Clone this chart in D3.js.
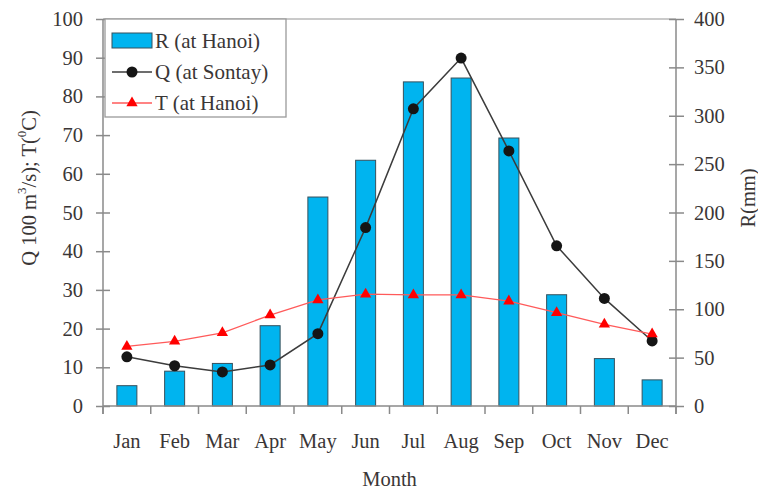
<!DOCTYPE html>
<html>
<head>
<meta charset="utf-8">
<script src="https://cdn.jsdelivr.net/npm/d3@7"></script>
<style>
  body { margin: 0; background: #fff; }
  svg { display: block; }
</style>
</head>
<body>
<svg id="chart" width="758" height="490" font-family="'Liberation Serif', 'DejaVu Serif', serif"></svg>
<script>
var months = ["Jan", "Feb", "Mar", "Apr", "May", "Jun", "Jul", "Aug", "Sep", "Oct", "Nov", "Dec"];
// rainfall R at Hanoi (mm), right axis
var rain = [21, 36, 44, 83, 216, 254, 335, 339, 277, 115, 49, 27];
// discharge Q at Sontay (100 m3/s), left axis
var discharge = [12.7, 10.4, 8.8, 10.6, 18.7, 46.1, 76.8, 89.9, 65.9, 41.4, 27.8, 16.8];
// temperature T at Hanoi (C), left axis
var temp = [15.4, 16.7, 18.9, 23.5, 27.4, 28.9, 28.7, 28.7, 27.1, 24.1, 21.1, 18.6];
var leftTicks = [0, 10, 20, 30, 40, 50, 60, 70, 80, 90, 100];
var rightTicks = [0, 50, 100, 150, 200, 250, 300, 350, 400];

var serif = "'Liberation Serif', 'DejaVu Serif', serif";
var textColor = "#3a3636";
var fs = 20.5;

function drawChart() {
    var svg = d3.select("#chart");
    var padding = {top: 19, right: 82, bottom: 84, left: 103};
    var chartArea = {
        "width": 758 - padding.left - padding.right,
        "height": 490 - padding.top - padding.bottom
    };
    var axisColor = "#8a8a8a";

    var xScale = d3.scaleBand().domain(months).range([0, chartArea.width]);
    var yLeft = d3.scaleLinear().domain([0, 100]).range([chartArea.height, 0]);
    var yRight = d3.scaleLinear().domain([0, 400]).range([chartArea.height, 0]);

    var g = svg.append("g")
        .attr("transform", "translate(" + padding.left + "," + padding.top + ")");

    // top border
    g.append("line")
        .attr("x1", 0).attr("x2", chartArea.width)
        .attr("y1", 0).attr("y2", 0)
        .attr("stroke", "#b8b8b8").attr("stroke-width", 1.5);

    // bars
    var barW = 20;
    g.selectAll("rect.bar").data(rain).enter()
        .append("rect")
        .attr("class", "bar")
        .attr("x", (d, i) => xScale(months[i]) + xScale.bandwidth() / 2 - barW / 2)
        .attr("y", d => yRight(d))
        .attr("width", barW)
        .attr("height", d => chartArea.height - yRight(d))
        .attr("fill", "#00b4ef")
        .attr("stroke", "#37505c")
        .attr("stroke-width", 1);

    // x axis with ticks between months
    var xAxis = g.append("g").attr("transform", "translate(0," + chartArea.height + ")");
    xAxis.append("line")
        .attr("x1", 0).attr("x2", chartArea.width)
        .attr("stroke", axisColor).attr("stroke-width", 1.5);
    var bounds = d3.range(months.length + 1).map(i => i * xScale.step());
    xAxis.selectAll("line.tick").data(bounds).enter()
        .append("line")
        .attr("class", "tick")
        .attr("x1", d => d).attr("x2", d => d)
        .attr("y1", 0).attr("y2", 8)
        .attr("stroke", axisColor).attr("stroke-width", 1.5);
    xAxis.selectAll("text").data(months).enter()
        .append("text")
        .attr("x", d => xScale(d) + xScale.bandwidth() / 2)
        .attr("y", 42)
        .attr("text-anchor", "middle")
        .attr("font-size", fs)
        .attr("fill", textColor)
        .text(d => d);

    // left axis
    var yAxisL = g.append("g")
        .call(d3.axisLeft(yLeft).tickValues(leftTicks).tickSize(6).tickPadding(12))
        .attr("font-family", serif).attr("font-size", fs);
    yAxisL.select(".domain").attr("stroke", axisColor).attr("stroke-width", 1.5)
        .attr("d", "M0,0V" + (chartArea.height + 8));
    yAxisL.selectAll(".tick line").attr("x1", 7).attr("x2", -7)
        .attr("stroke", axisColor).attr("stroke-width", 1.5);
    yAxisL.selectAll(".tick text").attr("fill", textColor).attr("dx", "-0.1em");

    // right axis
    var yAxisR = g.append("g")
        .attr("transform", "translate(" + chartArea.width + ",0)")
        .call(d3.axisRight(yRight).tickValues(rightTicks).tickSize(7).tickPadding(11))
        .attr("font-family", serif).attr("font-size", fs);
    yAxisR.select(".domain").attr("stroke", axisColor).attr("stroke-width", 1.5)
        .attr("d", "M0,0V" + (chartArea.height + 8));
    yAxisR.selectAll(".tick line").attr("x1", -7).attr("x2", 8)
        .attr("stroke", axisColor).attr("stroke-width", 1.5);
    yAxisR.selectAll(".tick text").attr("fill", textColor);

    var cx = (d, i) => xScale(months[i]) + xScale.bandwidth() / 2;

    // Q line
    var qLine = d3.line().x(cx).y(d => yLeft(d));
    g.append("path").datum(discharge)
        .attr("d", qLine)
        .attr("fill", "none")
        .attr("stroke", "#3c3c3c")
        .attr("stroke-width", 1.5);
    g.selectAll("circle.q").data(discharge).enter()
        .append("circle")
        .attr("class", "q")
        .attr("cx", cx)
        .attr("cy", d => yLeft(d))
        .attr("r", 5.5)
        .attr("fill", "#151515");

    // T line
    var tLine = d3.line().x(cx).y(d => yLeft(d));
    g.append("path").datum(temp)
        .attr("d", tLine)
        .attr("fill", "none")
        .attr("stroke", "#ff5a5a")
        .attr("stroke-width", 1.3);
    var tri = d3.symbol().type(d3.symbolTriangle).size(55);
    g.selectAll("path.t").data(temp).enter()
        .append("path")
        .attr("class", "t")
        .attr("d", tri)
        .attr("transform", (d, i) => "translate(" + cx(d, i) + "," + yLeft(d) + ")")
        .attr("fill", "#ff0000");

    // legend
    var leg = g.append("g").attr("transform", "translate(2,0)");
    leg.append("rect")
        .attr("x", 0).attr("y", 0)
        .attr("width", 181).attr("height", 98)
        .attr("fill", "#fff")
        .attr("stroke", "#9a9a9a").attr("stroke-width", 1.3);
    var rowY = [22, 53, 84];
    leg.append("rect")
        .attr("x", 7).attr("y", rowY[0] - 8)
        .attr("width", 40).attr("height", 15)
        .attr("fill", "#00b4ef").attr("stroke", "#37505c");
    leg.append("line")
        .attr("x1", 7).attr("x2", 47).attr("y1", rowY[1]).attr("y2", rowY[1])
        .attr("stroke", "#3c3c3c").attr("stroke-width", 1.5);
    leg.append("circle")
        .attr("cx", 27).attr("cy", rowY[1]).attr("r", 5.5).attr("fill", "#151515");
    leg.append("line")
        .attr("x1", 7).attr("x2", 47).attr("y1", rowY[2]).attr("y2", rowY[2])
        .attr("stroke", "#ff5a5a").attr("stroke-width", 1.3);
    leg.append("path")
        .attr("d", tri)
        .attr("transform", "translate(27," + rowY[2] + ")")
        .attr("fill", "#ff0000");
    var legLabels = ["R (at Hanoi)", "Q (at Sontay)", "T (at Hanoi)"];
    leg.selectAll("text.lab").data(legLabels).enter()
        .append("text")
        .attr("class", "lab")
        .attr("x", 50)
        .attr("y", (d, i) => rowY[i] + 7)
        .attr("font-size", 21)
        .attr("fill", textColor)
        .text(d => d);

    // axis titles
    var lt = svg.append("text")
        .attr("transform", "translate(36,188) rotate(-90)")
        .attr("text-anchor", "middle")
        .attr("font-size", fs)
        .attr("fill", textColor);
    lt.append("tspan").text("Q 100 m");
    lt.append("tspan").attr("font-size", 13).attr("dy", -10).text("3");
    lt.append("tspan").attr("dy", 10).text("/s); T(");
    lt.append("tspan").attr("font-size", 13).attr("dy", -10).text("0");
    lt.append("tspan").attr("dy", 10).text("C)");

    svg.append("text")
        .attr("transform", "translate(755,198) rotate(-90)")
        .attr("text-anchor", "middle")
        .attr("font-size", fs)
        .attr("fill", textColor)
        .text("R(mm)");

    svg.append("text")
        .attr("x", padding.left + chartArea.width / 2)
        .attr("y", 486)
        .attr("text-anchor", "middle")
        .attr("font-size", fs)
        .attr("fill", textColor)
        .text("Month");
}

drawChart();
</script>
</body>
</html>
